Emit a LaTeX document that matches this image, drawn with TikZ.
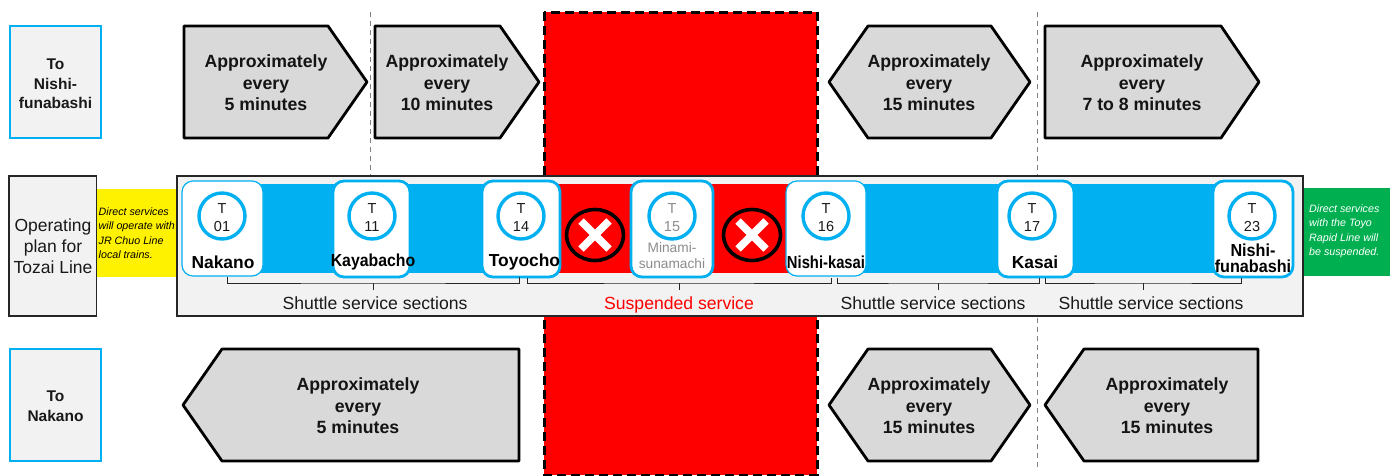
\documentclass[tikz,border=0pt]{standalone}
\usepackage{fontspec}
\setmainfont{Liberation Sans}
\usetikzlibrary{shapes.geometric}
\definecolor{cy}{HTML}{00B0F0}
\definecolor{gr}{HTML}{D9D9D9}
\definecolor{pn}{HTML}{F2F2F2}
\definecolor{gn}{HTML}{00B050}
\definecolor{dimt}{HTML}{8C8C8C}
\tikzset{
  flow/.style={draw=black,line width=2.8pt,fill=gr,line join=round},
  flowtext/.style={align=center,inner sep=0pt,font=\fontsize{17.7}{21.5}\selectfont\bfseries,text=black!92},
  tobox/.style={draw=cy,line width=2.4pt,fill=pn},
  totext/.style={align=center,inner sep=0pt,font=\fontsize{15.5}{19.5}\selectfont\bfseries,text=black!90},
  cardthin/.style={draw=cy,line width=1.2pt,fill=white,rounded corners=11pt},
  cardthick/.style={draw=cy,line width=2.8pt,fill=white,rounded corners=11pt},
  ring/.style={draw=cy,line width=3.4pt,fill=white,circle,minimum size=46pt,inner sep=0pt},
  numtext/.style={align=center,inner sep=0pt,font=\fontsize{14.5}{18.5}\selectfont,text=black!90},
  stname/.style={align=center,inner sep=0pt,font=\fontsize{17.4}{16}\selectfont\bfseries,text=black},
  note/.style={align=left,anchor=north west,inner sep=0pt,font=\fontsize{10.7}{14.5}\selectfont\itshape},
  sect/.style={inner sep=0pt,anchor=base,font=\fontsize{17.6}{21}\selectfont,text=black!90},
  brace/.style={draw=black!85,line width=1pt},
  sep/.style={draw=black!50,line width=1pt,dash pattern=on 5pt off 4pt},
  cross/.style={draw=white,line width=7.5pt},
  ban/.style={draw=black,line width=3.6pt,fill=red,ellipse,minimum width=57pt,minimum height=51pt,inner sep=0pt}
}
\begin{document}
\begin{tikzpicture}[x=1pt,y=-1pt]
\useasboundingbox (0,0) rectangle (1394,475);
\fill[white] (0,0) rectangle (1394,475);
% separators
\coordinate (s1a) at (370,12); \coordinate (s1b) at (370,176);
\coordinate (s2a) at (1037,12); \coordinate (s2b) at (1037,470);
\draw[sep] (s1a) -- (s1b);
\draw[sep] (s2a) -- (s2b);
% suspended column
\draw[fill=red,draw=black,line width=3pt,dash pattern=on 9pt off 5pt] (544,12) rectangle (817,475);
% left boxes
\draw[tobox] (10,26) rectangle (101,138);
\node[totext] (toA) at (55.5,84) {To\\Nishi-\\funabashi};
\draw[tobox] (10,349) rectangle (101,461);
\node[totext] (toB) at (55.5,406) {To\\Nakano};
% top flows
\draw[flow] (184,26) -- (328,26) -- (367,82) -- (328,138) -- (184,138) -- cycle;
\node[flowtext] (f1) at (266,83) {Approximately\\every\\5 minutes};
\draw[flow] (375,26) -- (500,26) -- (539,82) -- (500,138) -- (375,138) -- cycle;
\node[flowtext] (f2) at (447,83) {Approximately\\every\\10 minutes};
\draw[flow] (829,82) -- (868,26) -- (991,26) -- (1030,82) -- (991,138) -- (868,138) -- cycle;
\node[flowtext] (f3) at (929,83) {Approximately\\every\\15 minutes};
\draw[flow] (1045,26) -- (1221,26) -- (1259,82) -- (1221,138) -- (1045,138) -- cycle;
\node[flowtext] (f4) at (1142,83) {Approximately\\every\\7 to 8 minutes};
% bottom flows
\draw[flow] (183,405) -- (222,349) -- (519,349) -- (519,461) -- (222,461) -- cycle;
\node[flowtext] (f5) at (358,406) {Approximately\\every\\5 minutes};
\draw[flow] (829,405) -- (868,349) -- (991,349) -- (1030,405) -- (991,461) -- (868,461) -- cycle;
\node[flowtext] (f6) at (929,406) {Approximately\\every\\15 minutes};
\draw[flow] (1045,405) -- (1084,349) -- (1258,349) -- (1258,461) -- (1084,461) -- cycle;
\node[flowtext] (f7) at (1167,406) {Approximately\\every\\15 minutes};
% operating plan
\fill[yellow] (97,189) rectangle (177,277);
\fill[gn] (1303,188) rectangle (1390,276);
\draw[draw=black!85,line width=1.5pt,fill=pn] (9,176) rectangle (96.5,316);
\node[align=center,inner sep=0pt,font=\fontsize{17.5}{21}\selectfont,text=black!90] (op) at (53,246) {Operating\\plan for\\Tozai Line};
\node[note,text=black] (nY) at (98.5,207.5) {Direct services\\will operate with\\JR Chuo Line\\local trains.};
\node[note,text=white] (nG) at (1309,204.5) {Direct services\\with the Toyo\\Rapid Line will\\be suspended.};
% panel
\draw[draw=black!85,line width=1.5pt,fill=pn] (177,176) rectangle (1303,316);
\fill[cy] (220,184) rectangle (1240,273);
\fill[red] (555,184) rectangle (790,273);
% cards
\draw[cardthin] (182,181) rectangle (263,276);
\draw[cardthick] (333,181) rectangle (410,277);
\draw[cardthick] (482,181) rectangle (560,277);
\draw[cardthick] (631,181) rectangle (713,277);
\draw[cardthin] (786,181) rectangle (866,276);
\draw[cardthick] (997,181) rectangle (1074,277);
\draw[cardthick] (1213,181) rectangle (1293,277);
% rings
\node[ring] (r1) at (222,216) {};
\node[ring] (r2) at (372,216) {};
\node[ring] (r3) at (521,216) {};
\node[ring] (r4) at (672,216) {};
\node[ring] (r5) at (826,216) {};
\node[ring] (r6) at (1032,216) {};
\node[ring] (r7) at (1252,216) {};
\node[numtext] (n1) at (222,217.5) {T\\01};
\node[numtext] (n2) at (372,217.5) {T\\11};
\node[numtext] (n3) at (521,217.5) {T\\14};
\node[numtext,text=dimt] (n4) at (672,217.5) {T\\15};
\node[numtext] (n5) at (826,217.5) {T\\16};
\node[numtext] (n6) at (1032,217.5) {T\\17};
\node[numtext] (n7) at (1252,217.5) {T\\23};
% names
\node[stname] (m1) at (223,262) {Nakano};
\node[stname] (m2) at (373,262) {\scalebox{.91}[1]{Kayabacho}};
\node[stname] (m3) at (524.5,262) {Toyocho};
\node[align=center,inner sep=0pt,font=\fontsize{13.7}{16}\selectfont,text=dimt] (m4) at (672,256) {Minami-\\sunamachi};
\node[stname] (m5) at (826,262) {\scalebox{.85}[1]{Nishi-kasai}};
\node[stname] (m6) at (1035,262) {Kasai};
\node[stname] (m7) at (1253,258) {\scalebox{.93}[1]{Nishi-}\\\scalebox{.93}[1]{funabashi}};
% bans
\node[ban] (b1) at (595,235) {};
\node[ban] (b2) at (752,235) {};
\draw[cross] ([shift={(-14,-14)}]b1.center) -- ([shift={(14,14)}]b1.center);
\draw[cross] ([shift={(14,-14)}]b1.center) -- ([shift={(-14,14)}]b1.center);
\draw[cross] ([shift={(-14,-14)}]b2.center) -- ([shift={(14,14)}]b2.center);
\draw[cross] ([shift={(14,-14)}]b2.center) -- ([shift={(-14,14)}]b2.center);
% section labels
\node[sect] (l1) at (375,309) {Shuttle service sections};
\node[sect,text=red] (l2) at (679,309) {Suspended service};
\node[sect] (l3) at (933,309) {Shuttle service sections};
\node[sect] (l4) at (1151,309) {Shuttle service sections};
% brackets
\coordinate (a1) at (227,277); \coordinate (c1) at (519,277); \coordinate (h1) at (373,283); \coordinate (t1) at (373,290);
\coordinate (a2) at (527,278); \coordinate (c2) at (831,278); \coordinate (h2) at (679,283); \coordinate (t2) at (679,290);
\coordinate (a3) at (837,278); \coordinate (c3) at (1039,278); \coordinate (h3) at (938,283); \coordinate (t3) at (938,290);
\coordinate (a4) at (1045,278); \coordinate (c4) at (1241,278); \coordinate (h4) at (1143,283); \coordinate (t4) at (1143,290);
\draw[brace] (a1) |- (h1) -| (c1); \draw[brace] (h1) -- (t1);
\draw[brace] (a2) |- (h2) -| (c2); \draw[brace] (h2) -- (t2);
\draw[brace] (a3) |- (h3) -| (c3); \draw[brace] (h3) -- (t3);
\draw[brace] (a4) |- (h4) -| (c4); \draw[brace] (h4) -- (t4);
\end{tikzpicture}
\end{document}
